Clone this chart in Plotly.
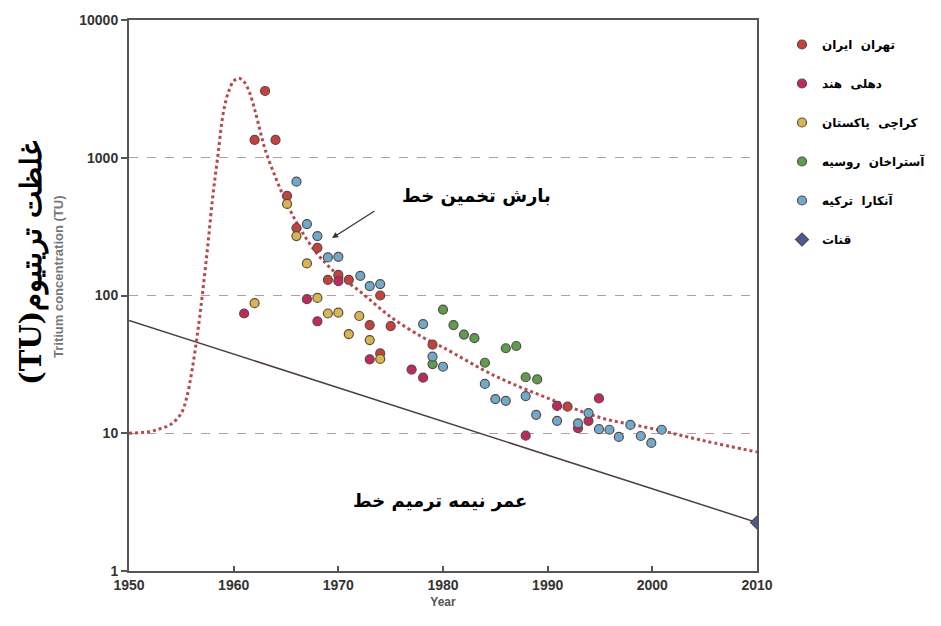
import plotly.graph_objects as go

# ---------------- data ----------------
tehran_year = [1962.0, 1963.0, 1964.0, 1965.1, 1966.0, 1968.0, 1969.0, 1970.0, 1971.0, 1973.0, 1974.0, 1974.0, 1975.0, 1979.0, 1991.9]
tehran_tu = [1346, 3053, 1346, 528, 309, 222, 130, 141, 130, 61, 100, 38, 60, 44, 15.6]

delhi_year = [1961.0, 1967.0, 1968.0, 1970.0, 1973.0, 1977.0, 1978.1, 1987.9, 1990.9, 1992.9, 1993.9, 1994.9]
delhi_tu = [74, 94, 65, 127, 34.4, 29, 25.3, 9.6, 15.8, 10.9, 12.3, 17.9]

karachi_year = [1962.0, 1965.1, 1966.0, 1967.0, 1968.0, 1969.0, 1970.0, 1971.0, 1972.0, 1973.0, 1974.0]
karachi_tu = [88, 462, 270, 171, 96, 74, 75, 52.5, 71, 47.5, 34.6]

astrakhan_year = [1979.0, 1980.0, 1981.0, 1982.0, 1983.0, 1984.0, 1986.0, 1987.0, 1987.9, 1989.0]
astrakhan_tu = [31.8, 79, 61, 52, 49, 32.5, 41.4, 43, 25.5, 24.6]

ankara_year = [1966.0, 1967.0, 1968.0, 1969.0, 1970.0, 1972.1, 1973.0, 1974.0, 1978.1, 1979.0, 1980.0,
               1984.0, 1985.0, 1986.0, 1987.9, 1988.9, 1990.9, 1992.9, 1993.9, 1994.9, 1995.9,
               1996.8, 1997.9, 1998.9, 1999.9, 2000.9]
ankara_tu = [670, 330, 270, 189, 191, 139, 117, 121, 62, 36, 30.4,
             22.8, 17.7, 17.2, 18.6, 13.6, 12.3, 11.8, 14.0, 10.7, 10.6,
             9.4, 11.5, 9.55, 8.5, 10.6]

qanat_year = [2010]
qanat_tu = [2.25]

precip_year = [1950, 1952, 1953, 1954, 1955, 1955.5, 1956, 1956.5, 1957, 1957.5, 1958, 1958.5, 1959,
               1959.5, 1960, 1960.5, 1961, 1961.5, 1962, 1962.5, 1963, 1964, 1965, 1966, 1967, 1968,
               1969, 1970, 1972, 1975, 1978, 1980, 1985, 1990, 1995, 2000, 2005, 2010]
precip_tu = [10, 10.3, 10.8, 11.6, 14, 18, 28, 50, 100, 220, 520, 1050, 2100,
             3000, 3600, 3780, 3550, 3000, 2250, 1600, 1150, 720, 480, 340, 255, 200,
             165, 140, 108, 70, 50, 42, 26, 18, 13, 10.8, 8.8, 7.3]

decay_year = [1950, 2010]
decay_tu = [66, 2.25]

tick_vals = [1, 10, 100, 1000, 10000]
tick_text = ["1", "10", "100", "1000", "10000"]
x_ticks = [1950, 1960, 1970, 1980, 1990, 2000, 2010]

# words in visual (left-to-right) order of the reference
NB = "\u00a0\u00a0"
names = [
    "تهران" + NB + "ایران",
    "دهلی" + NB + "هند",
    "کراچی" + NB + "پاکستان",
    "آستراخان" + NB + "روسیه",
    "آنکارا" + NB + "ترکیه",
    "قنات",
]
label_precip = "بارش تخمین خط"
label_decay = "عمر نیمه ترمیم خط"

fig = go.Figure()

fig.add_trace(go.Scatter(x=decay_year, y=decay_tu, mode="lines",
                         line=dict(color="#4f4040", width=1.5), showlegend=False, hoverinfo="skip"))
fig.add_trace(go.Scatter(x=precip_year, y=precip_tu, mode="lines", line_shape="spline",
                         line=dict(color="#b8484c", width=3, dash="dot"), showlegend=False, hoverinfo="skip"))

outline = dict(color="#5a4a4a", width=1.2)
series = [
    (tehran_year, tehran_tu, "#c8403c", "circle"),
    (delhi_year, delhi_tu, "#c4285a", "circle"),
    (karachi_year, karachi_tu, "#d6b84a", "circle"),
    (astrakhan_year, astrakhan_tu, "#5c9e4c", "circle"),
    (ankara_year, ankara_tu, "#6eaacc", "circle"),
    (qanat_year, qanat_tu, "#4a5a98", "diamond"),
]
for i, (xs, ys, col, sym) in enumerate(series):
    fig.add_trace(go.Scatter(
        x=xs, y=ys, mode="markers", name="<b>" + names[i] + "</b>", legendgroup=str(i),
        marker=dict(color=col, size=9 if sym == "circle" else 10, symbol=sym, line=outline),
    ))

axis_font = dict(family="Liberation Sans Narrow, Arial Narrow, Liberation Sans, Arial", size=14, color="#333333")

# page is drawn with an 8px body margin, so figure is 8px smaller than window
W, H = 933, 618
ML, MR, MT, MB = 121, 4, 12, 55
plot_w = 628
dom_end = plot_w / (W - ML - MR)

fig.update_xaxes(
    domain=[0, dom_end], automargin=False,
    range=[1950, 2010], tickvals=x_ticks, ticktext=["<b>%d</b>" % v for v in x_ticks],
    ticks="inside", ticklen=5, tickwidth=1.5, tickcolor="#555",
    showline=True, linecolor="#555555", linewidth=2, mirror=True, showgrid=False, zeroline=False,
    tickfont=axis_font,
    title=dict(text="<b>Year</b>", font=dict(family="Liberation Sans, Arial", size=12, color="#555"), standoff=6),
)
fig.update_yaxes(
    automargin=False,
    type="log", range=[0, 4], tickvals=tick_vals, ticktext=["<b>%s</b>" % t for t in tick_text],
    ticks="outside", ticklen=6, tickwidth=1.5, tickcolor="#555",
    showline=True, linecolor="#555555", linewidth=2, mirror=True,
    showgrid=True, gridcolor="#b89c9c", griddash="dash", gridwidth=1, zeroline=False,
    tickfont=axis_font,
)

def px(xp):
    return (xp - 8 - ML) / (W - ML - MR)

def py(yp):
    return (571 - yp) / 551.0

arab = "DejaVu Sans, Noto Sans, sans-serif"
fig.add_annotation(x=1969.4, y=2.417, xref="x", yref="y", ax=44, ay=-28, text="",
                   showarrow=True, arrowhead=2, arrowsize=1, arrowwidth=1.2, arrowcolor="#333")
fig.add_annotation(x=px(476), y=py(196), xref="paper", yref="paper", showarrow=False,
                   xanchor="center", yanchor="middle",
                   text="<b>" + label_precip + "</b>",
                   font=dict(family=arab, size=18, color="#000"))
fig.add_annotation(x=px(440), y=py(501), xref="paper", yref="paper", showarrow=False,
                   xanchor="center", yanchor="middle",
                   text="<b>" + label_decay + "</b>",
                   font=dict(family=arab, size=18, color="#000"))
fig.add_annotation(x=px(58), y=py(277), xref="paper", yref="paper", showarrow=False, textangle=-90,
                   xanchor="center", yanchor="middle",
                   text="<b>Tritium concentration (TU)</b>",
                   font=dict(family="Liberation Sans, Arial", size=13, color="#777"))
fig.add_annotation(x=px(32), y=py(263), xref="paper", yref="paper", showarrow=False, textangle=-90,
                   xanchor="center", yanchor="middle",
                   text="<b>\u202bغلظت تریتیوم(TU)\u202c</b>",
                   font=dict(family="DejaVu Serif, Liberation Serif, serif", size=29, color="#000"))

fig.update_layout(
    width=W, height=H,
    margin=dict(l=ML, r=MR, t=MT, b=MB),
    paper_bgcolor="white", plot_bgcolor="white",
    showlegend=True,
    legend=dict(x=px(782), y=py(30), xanchor="left", yanchor="top", tracegroupgap=20,
                font=dict(family=arab, size=12, color="#000"), bgcolor="rgba(0,0,0,0)",
                itemwidth=30),
)

fig.write_html("out.html")
